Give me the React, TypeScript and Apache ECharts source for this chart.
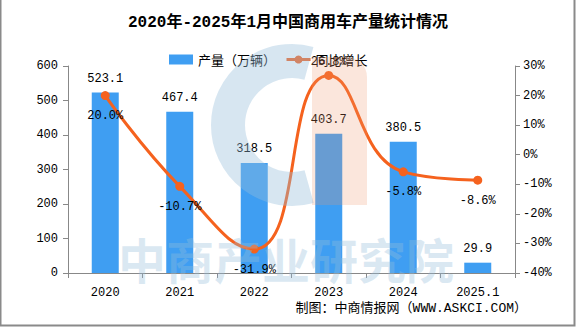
import React, { useEffect, useRef } from "react";
import * as echarts from "echarts";

const categories = ["2020", "2021", "2022", "2023", "2024", "2025.1"];
const production = [523.1, 467.4, 318.5, 403.7, 380.5, 29.9];
const growth = [20.0, -10.7, -31.9, 26.8, -5.8, -8.6];
const leftTicks = { min: 0, max: 600, interval: 100 };
const rightTicks = { min: -40, max: 30, interval: 10 };

const MONO = "'Liberation Mono', 'Noto Sans CJK SC', monospace";
const CJK = "'Noto Sans CJK SC', sans-serif";

export default function App() {
  const ref = useRef<HTMLDivElement>(null);
  useEffect(() => {
    if (!ref.current) return;
    const chart = echarts.init(ref.current, undefined, { renderer: "svg" });
    chart.setOption({
      animation: false,
      backgroundColor: "#ffffff",
      title: {
        text: "2020年-2025年1月中国商用车产量统计情况",
        left: "center",
        top: 10,
        textStyle: { fontFamily: MONO, fontSize: 16, fontWeight: "bold", color: "#000" },
      },
      legend: {
        top: 48,
        left: 164,
        itemWidth: 24,
        itemHeight: 10,
        itemGap: 9,
        textStyle: { fontFamily: CJK, fontSize: 13, color: "#000" },
        data: [
          { name: "产量（万辆）", icon: "rect" },
          { name: "同比增长", itemStyle: { color: "#f5621e" }, lineStyle: { width: 3, color: "#f5621e" } },
        ],
      },
      grid: { left: 68, right: 61, top: 66, bottom: 54 },
      xAxis: {
        type: "category",
        data: categories,
        axisLine: { lineStyle: { color: "#888" } },
        axisTick: { show: true, alignWithLabel: false, lineStyle: { color: "#888" } },
        axisLabel: { margin: 14, fontFamily: MONO, fontSize: 12, color: "#000" },
      },
      yAxis: [
        {
          type: "value",
          min: leftTicks.min,
          max: leftTicks.max,
          interval: leftTicks.interval,
          splitLine: { show: false },
          axisLine: { show: true, lineStyle: { color: "#888" } },
          axisTick: { show: true, length: 5, lineStyle: { color: "#888" } },
          axisLabel: { margin: 10, fontFamily: MONO, fontSize: 12, color: "#000" },
        },
        {
          type: "value",
          min: rightTicks.min,
          max: rightTicks.max,
          interval: rightTicks.interval,
          splitLine: { show: false },
          axisLine: { show: true, lineStyle: { color: "#888" } },
          axisTick: { show: true, length: 5, lineStyle: { color: "#888" } },
          axisLabel: { margin: 8, fontFamily: MONO, fontSize: 12, color: "#000", formatter: "{value}%" },
        },
      ],
      series: [
        {
          name: "产量（万辆）",
          type: "bar",
          data: production,
          barWidth: 27,
          itemStyle: { color: "#3f9ef2" },
          label: {
            show: true,
            position: "top",
            distance: 8,
            fontFamily: MONO,
            fontSize: 12,
            color: "#000",
            formatter: (p: any) => p.value.toFixed(1),
          },
        },
        {
          name: "同比增长",
          type: "line",
          yAxisIndex: 1,
          smooth: 0.5,
          data: growth.map((v, i) => ({
            value: v,
            label: { position: i === 3 ? "top" : "bottom", distance: i === 3 ? 3 : 10 },
          })),
          symbol: "circle",
          symbolSize: 9,
          lineStyle: { color: "#f5621e", width: 3 },
          itemStyle: { color: "#f5621e" },
          label: {
            show: true,
            fontFamily: MONO,
            fontSize: 12,
            color: "#000",
            formatter: (p: any) => Number(p.value).toFixed(1) + "%",
          },
          z: 3,
        },
      ],
      graphic: [
        {
          type: "arc",
          silent: true,
          z: 100,
          shape: { cx: 292, cy: 125, r: 64, startAngle: 1.3, endAngle: 4.98, clockwise: true },
          style: { stroke: "rgba(150,190,218,0.38)", lineWidth: 34, fill: "none" },
        },
        {
          type: "rect",
          silent: true,
          z: 99,
          shape: { x: 312, y: 57, width: 55, height: 148, r: [0, 20, 0, 0] },
          style: { fill: "rgba(240,150,110,0.24)" },
        },
        {
          type: "text",
          silent: true,
          z: 100,
          left: 118,
          top: 234,
          style: {
            text: "中商产业研究院",
            fontFamily: CJK,
            fontSize: 48,
            lineHeight: 42,
            fontWeight: "bold",
            fill: "rgba(150,190,218,0.34)",
          },
        },
        {
          type: "text",
          right: 49,
          top: 302,
          style: {
            text: "制图：中商情报网（WWW.ASKCI.COM）",
            fontFamily: MONO,
            fontSize: 13,
            fill: "#000",
          },
        },
        {
          type: "polyline",
          silent: true,
          z: 200,
          shape: { points: [[0.5, 0], [0.5, 325.5], [574.5, 325.5], [574.5, 0]] },
          style: { stroke: "#8a8a8a", lineWidth: 2, fill: "none" },
        },
      ],
    });
    return () => chart.dispose();
  }, []);
  return (
    <div
      ref={ref}
      style={{ position: "absolute", left: 0, top: 0, width: 576, height: 327 }}
    />
  );
}
